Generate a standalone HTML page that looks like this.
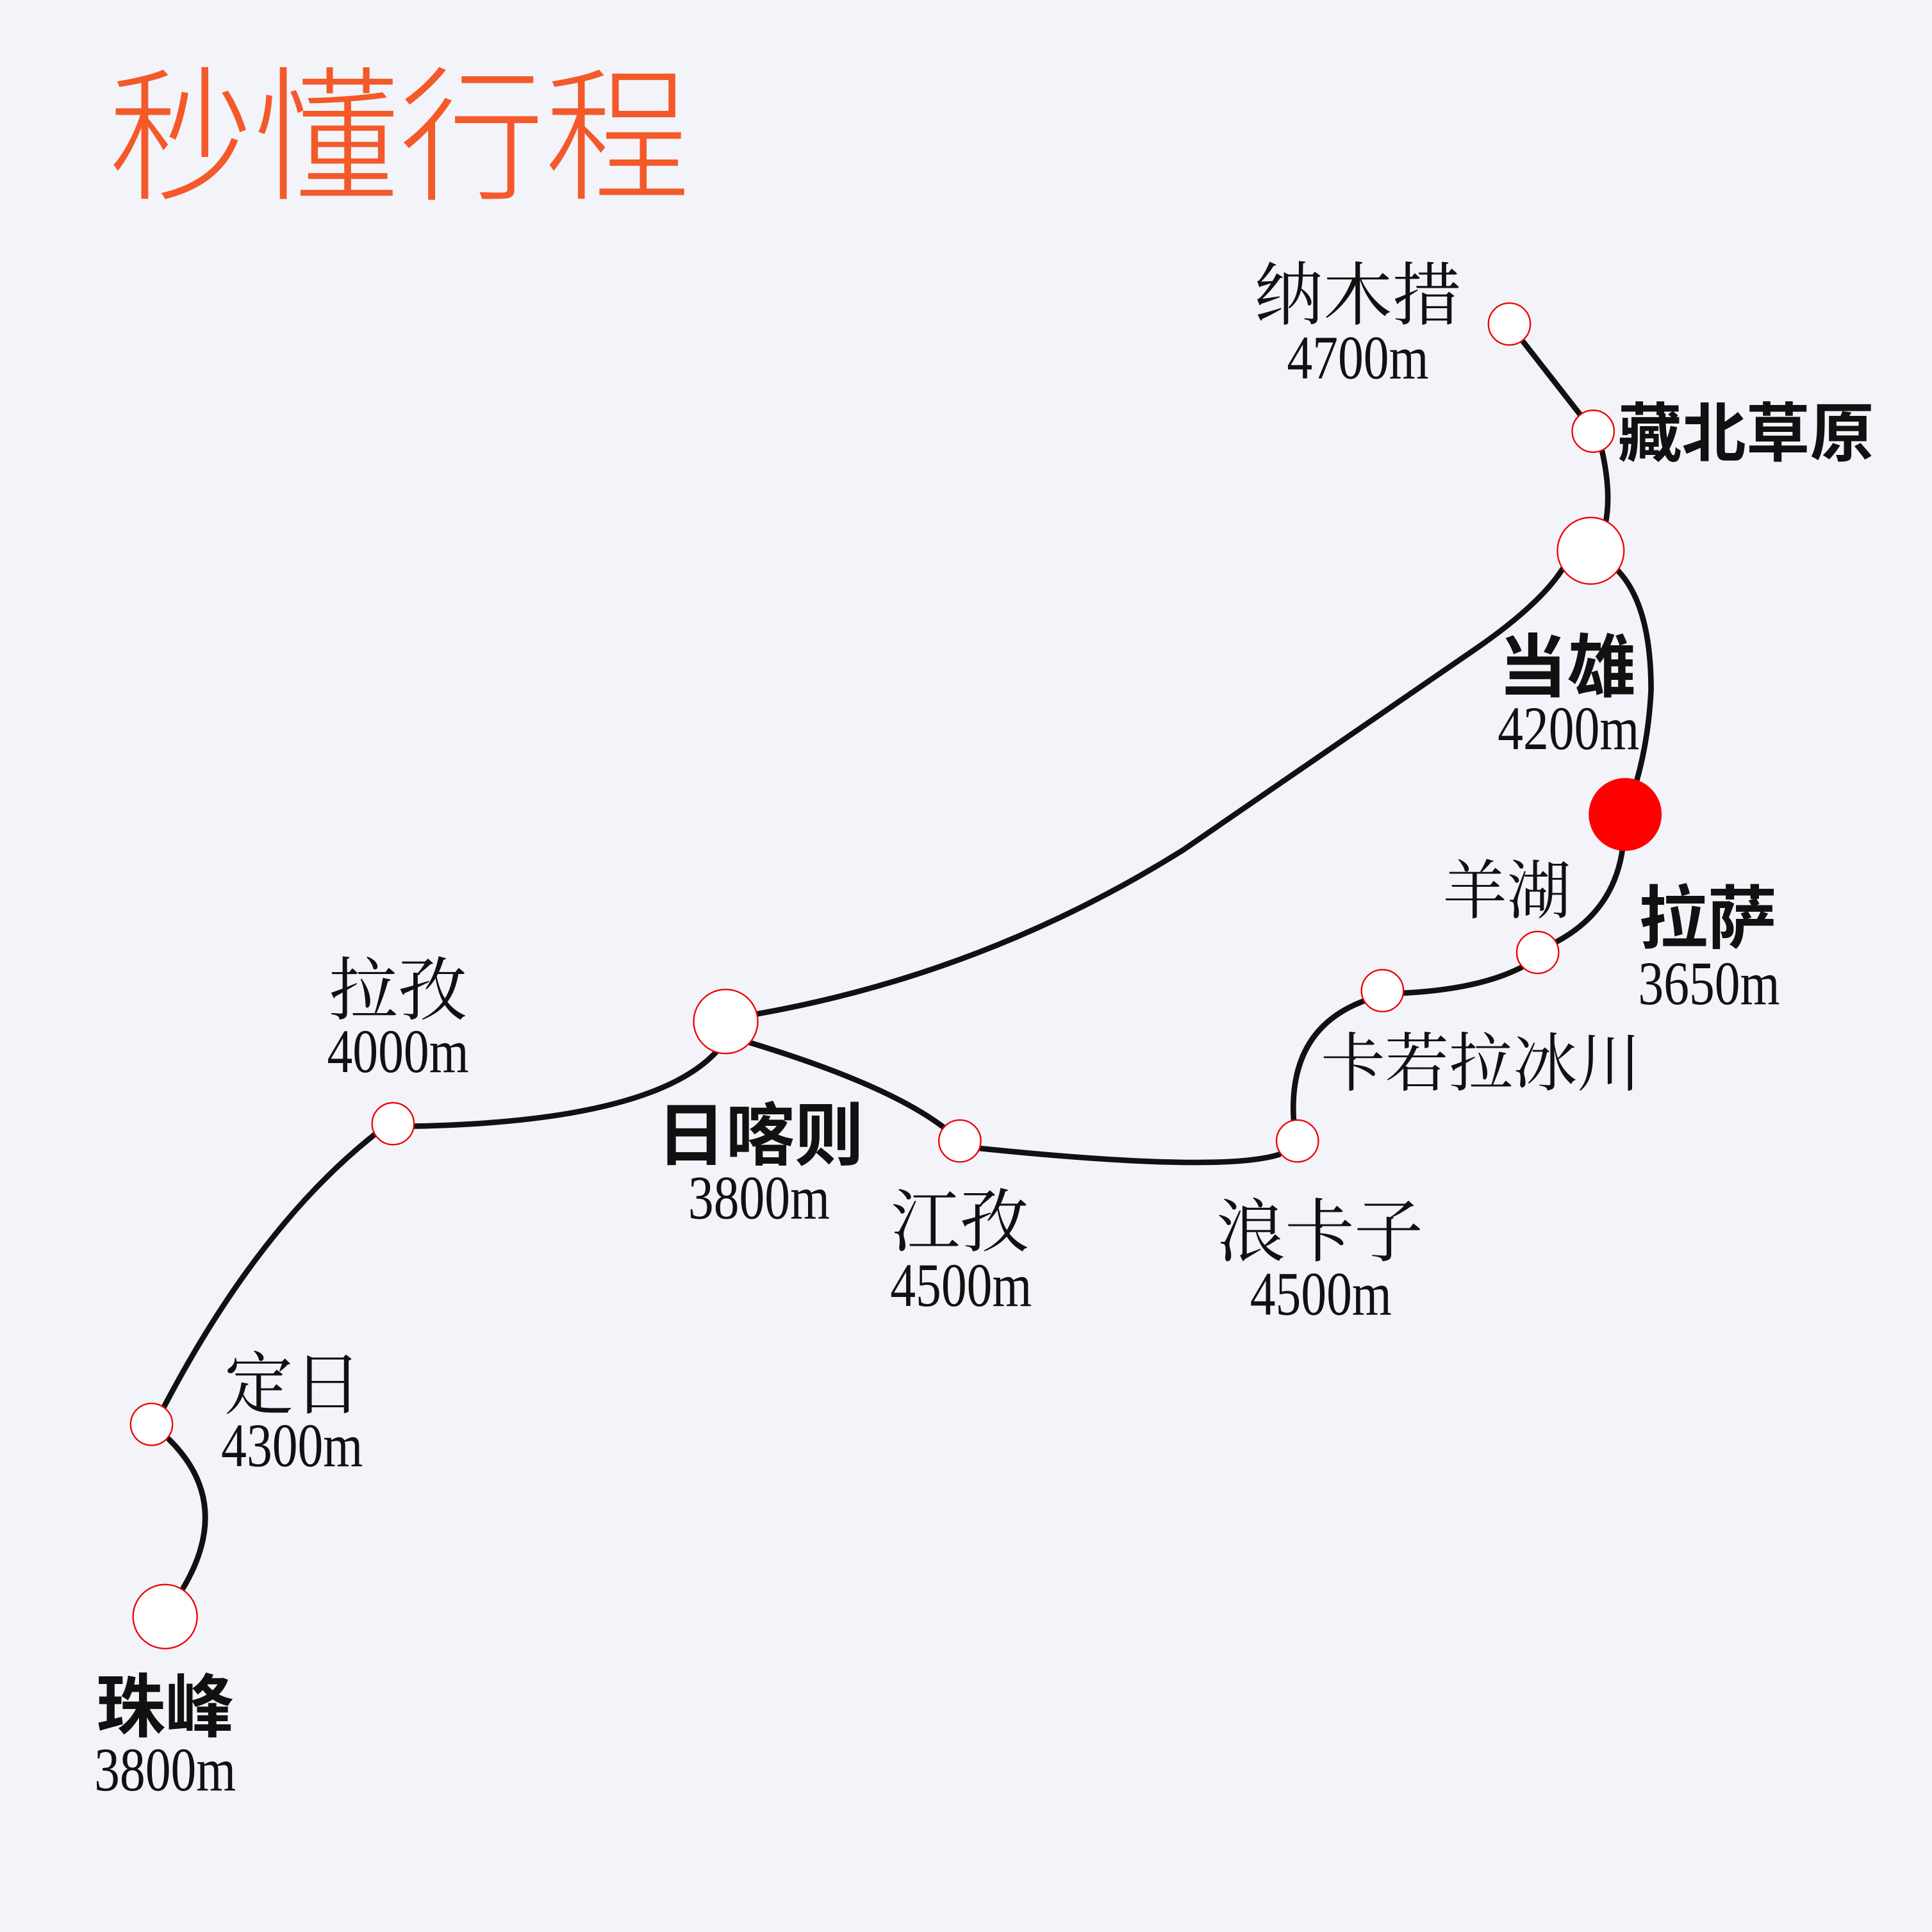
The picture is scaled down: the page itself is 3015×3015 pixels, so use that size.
<!DOCTYPE html>
<html><head><meta charset="utf-8"><style>
html,body{margin:0;padding:0;background:#f3f4f9;}
svg{display:block;}
.n{font-family:"Liberation Serif","Noto Serif CJK SC","Noto Sans CJK SC",serif;font-size:56px;fill:#111;text-anchor:middle;}
.b{font-family:"Liberation Sans","Noto Sans CJK SC",sans-serif;font-weight:600;font-size:56px;fill:#111;text-anchor:middle;}
.a{font-family:"Liberation Serif","DejaVu Serif",serif;font-size:50px;fill:#111;text-anchor:middle;}
path{fill:none;stroke:#111;stroke-width:4.5;stroke-linecap:round;}
circle{fill:#fff;stroke:#e00;stroke-width:1.2;}
</style></head><body>
<svg width="3015" height="3015" viewBox="0 0 1568 1568" xmlns="http://www.w3.org/2000/svg">
<rect width="1568" height="1568" fill="#f3f4f9"/>
<text x="88" y="153" style="font-family:'Noto Sans CJK SC',sans-serif;font-weight:300;font-size:118px;fill:#f4592a" textLength="472">秒懂行程</text>

<path d="M1225,263 L1293,350"/>
<path d="M1300,365 Q1308,400 1303,425"/>
<path d="M1312,462 Q1340,490 1340,560 Q1338,600 1328,635"/>
<path d="M1317,688 Q1310,740 1262,765"/>
<path d="M1235,785 Q1200,803 1138,806"/>
<path d="M1108,812 Q1045,835 1050,910"/>
<path d="M1038,937 Q990,952 795,932"/>
<path d="M766,915 Q720,880 608,846"/>
<path d="M614,823 Q800,790 960,690 L1200,525 Q1250,490 1268,462"/>
<path d="M582,853 Q530,910 337,914"/>
<path d="M305,920 Q210,995 133,1142"/>
<path d="M137,1168 Q190,1220 148,1290"/>

<circle cx="1225" cy="263" r="17"/>
<circle cx="1293" cy="350" r="17"/>
<circle cx="1291" cy="447" r="27"/>
<circle cx="1319" cy="661" r="29" style="fill:#f00;stroke:#f00"/>
<circle cx="1248" cy="773" r="17"/>
<circle cx="1122" cy="804" r="17"/>
<circle cx="1053" cy="926" r="17"/>
<circle cx="779" cy="926" r="17"/>
<circle cx="589" cy="829" r="26"/>
<circle cx="319" cy="912" r="17"/>
<circle cx="123" cy="1156" r="17"/>
<circle cx="134" cy="1312" r="26"/>

<text class="n" x="1102" y="259">纳木措</text>
<text class="a" x="1102" y="307" textLength="115" lengthAdjust="spacingAndGlyphs">4700m</text>
<text class="b" x="1417" y="370" style="font-size:52px">藏北草原</text>
<text class="b" x="1272" y="561">当雄</text>
<text class="a" x="1273" y="608" textLength="115" lengthAdjust="spacingAndGlyphs">4200m</text>
<text class="b" x="1386" y="765">拉萨</text>
<text class="a" x="1387" y="815" textLength="115" lengthAdjust="spacingAndGlyphs">3650m</text>
<text class="n" x="1223" y="741" style="font-size:52px">羊湖</text>
<text class="n" x="1202" y="881" style="font-size:52px">卡若拉冰川</text>
<text class="n" x="1071" y="1019">浪卡子</text>
<text class="a" x="1072" y="1067" textLength="115" lengthAdjust="spacingAndGlyphs">4500m</text>
<text class="n" x="779" y="1011">江孜</text>
<text class="a" x="780" y="1060" textLength="115" lengthAdjust="spacingAndGlyphs">4500m</text>
<text class="b" x="617" y="941">日喀则</text>
<text class="a" x="616" y="989" textLength="115" lengthAdjust="spacingAndGlyphs">3800m</text>
<text class="n" x="323" y="823">拉孜</text>
<text class="a" x="323" y="870" textLength="115" lengthAdjust="spacingAndGlyphs">4000m</text>
<text class="n" x="238" y="1143">定日</text>
<text class="a" x="237" y="1190" textLength="115" lengthAdjust="spacingAndGlyphs">4300m</text>
<text class="b" x="134" y="1405">珠峰</text>
<text class="a" x="134" y="1453" textLength="115" lengthAdjust="spacingAndGlyphs">3800m</text>
</svg>
</body></html>
